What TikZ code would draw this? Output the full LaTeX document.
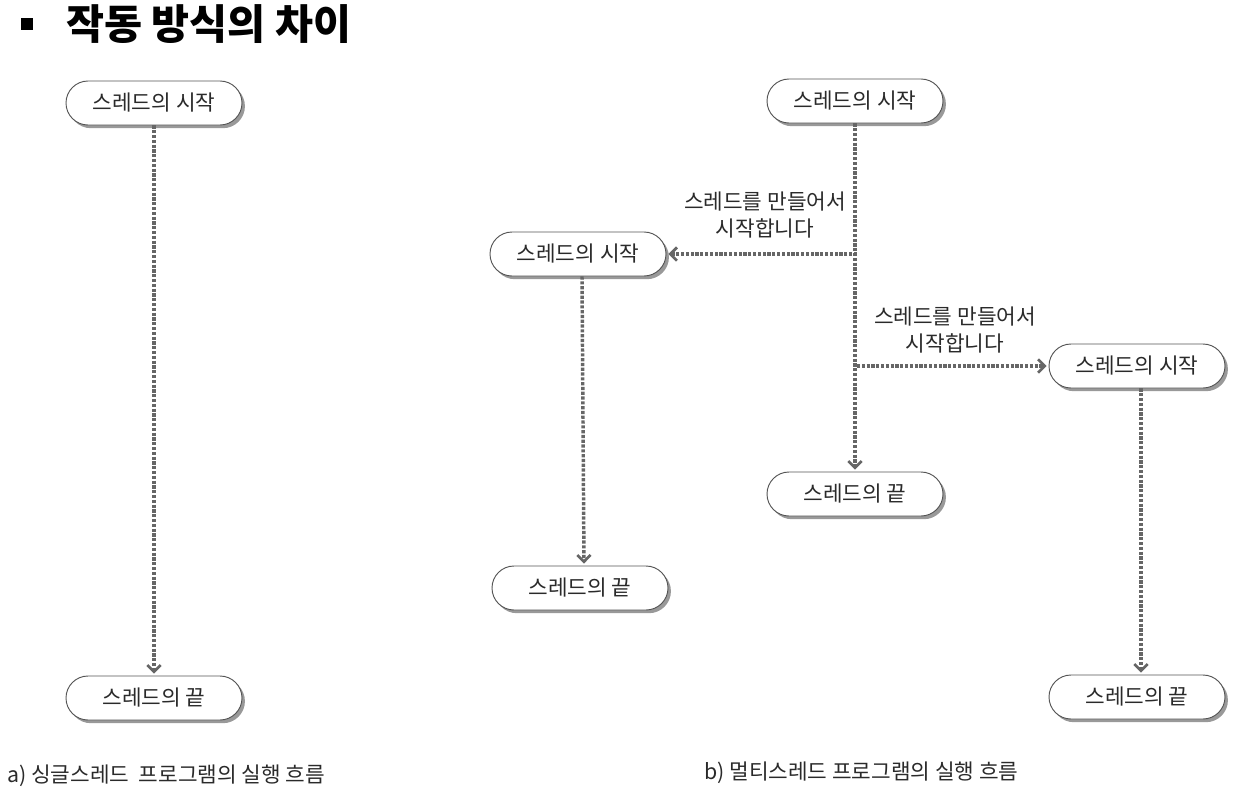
\documentclass[tikz,border=0pt]{standalone}
\usepackage{fontspec}
\setmainfont{Noto Sans CJK KR}
\usetikzlibrary{arrows.meta,shadows}
\definecolor{linegray}{HTML}{666666}
\definecolor{boxline}{HTML}{555555}
\definecolor{txtgray}{HTML}{2A2A2A}
\begin{document}
\begin{tikzpicture}[x=0.75pt,y=-0.75pt,
  capsule/.style={draw=boxline, line width=0.7pt, fill=white,
    minimum width=132pt, minimum height=33pt, rounded corners=16.5pt,
    text=txtgray, font=\fontsize{16pt}{19pt}\selectfont, inner sep=0pt,
    drop shadow={shadow xshift=2.2pt, shadow yshift=-2.4pt, fill=black!40, opacity=1}},
  flow/.style={draw=linegray, dash pattern=on 2.4pt off 1.2pt,
    -{Straight Barb[length=5pt,width=10pt,line width=2pt]}, shorten >=1.5pt,
    line width=2.6pt},
  lbl/.style={align=center, text=txtgray, font=\fontsize{16pt}{20pt}\selectfont, inner sep=0pt},
  caption/.style={anchor=west, text=txtgray, font=\fontsize{16pt}{19pt}\selectfont, inner sep=0pt}
]
\useasboundingbox (0,0) rectangle (1250,797);
% title
\fill (21,18) rectangle (33,30);
\node[anchor=west, inner sep=0pt, font=\fontsize{31pt}{34pt}\selectfont\bfseries] (title) at (66,24) {작동 방식의 차이};
% left
\node[capsule] (a1) at (154,103) {스레드의 시작};
\node[capsule] (a2) at (154,698) {스레드의 끝};
\draw[flow] (a1) -- (a2);
% right main
\node[capsule] (b1) at (855,101) {스레드의 시작};
\node[capsule] (b2) at (855,494) {스레드의 끝};
\draw[flow] (b1) -- (b2);
% branch 1
\node[capsule] (c1) at (578,254) {스레드의 시작};
\node[capsule] (c2) at (580,588) {스레드의 끝};
\coordinate (br1) at (857,254);
\draw[flow] (br1) -- (c1);
\draw[flow] ([xshift=3pt]c1.south) -- ([xshift=3pt]c2.north);
\node[lbl] (l1) at (765,215) {스레드를 만들어서\\시작합니다};
% branch 2
\node[capsule] (d1) at (1137,366) {스레드의 시작};
\node[capsule] (d2) at (1137,697) {스레드의 끝};
\coordinate (br2) at (857,366);
\draw[flow] (br2) -- (d1);
\draw[flow] ([xshift=3pt]d1.south) -- ([xshift=3pt]d2.north);
\node[lbl] (l2) at (955,330) {스레드를 만들어서\\시작합니다};
% captions
\node[caption] (capa) at (7,776) {a) 싱글스레드\ \ 프로그램의 실행 흐름};
\node[caption] (capb) at (704,773) {b) 멀티스레드 프로그램의 실행 흐름};
\end{tikzpicture}
\end{document}
